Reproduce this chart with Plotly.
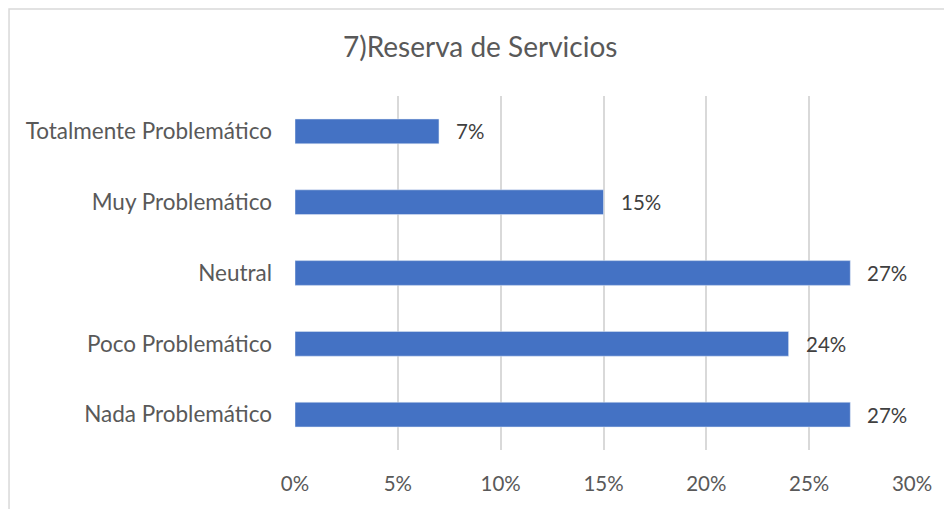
import plotly.graph_objs as go

# data (top to bottom)
categories = ["Totalmente Problemático", "Muy Problemático", "Neutral",
              "Poco Problemático", "Nada Problemático"]
values = [0.07, 0.15, 0.27, 0.24, 0.27]
x_ticks = [0, 0.05, 0.10, 0.15, 0.20, 0.25, 0.30]
x_tick_labels = ["0%", "5%", "10%", "15%", "20%", "25%", "30%"]

font_family = "Lato, Open Sans, sans-serif"
text_color = "#595959"

bar = go.Bar(
    x=values,
    y=categories,
    orientation="h",
    marker=dict(color="#4472C4"),
    width=0.35,
    hoverinfo="skip",
)

# data labels placed a little right of each bar end
labels = [dict(x=v, y=c, text=f"{round(v * 100)}%", xref="x", yref="y",
               xanchor="left", yanchor="middle", xshift=15, showarrow=False,
               font=dict(size=20.5, color="#404040", family=font_family))
          for v, c in zip(values, categories)]

layout = go.Layout(
    width=952,
    height=509,
    margin=dict(l=287, r=48, t=88, b=67),
    paper_bgcolor="white",
    plot_bgcolor="white",
    showlegend=False,
    font=dict(family=font_family, size=20, color=text_color),
    title=dict(text="7)Reserva de Servicios", x=0.496, xanchor="center",
               y=0.923, yanchor="middle",
               font=dict(size=28, color=text_color, family=font_family)),
    xaxis=dict(range=[0, 0.30], tickvals=x_ticks, ticktext=x_tick_labels,
               showgrid=True, gridcolor="#D9D9D9", gridwidth=1.5,
               zeroline=False, showline=False,
               ticklabelstandoff=19,
               tickfont=dict(size=20.5, color=text_color)),
    yaxis=dict(categoryorder="array", categoryarray=categories[::-1],
               showgrid=False, zeroline=False, showline=False,
               ticklabelstandoff=22,
               tickfont=dict(size=22.5, color=text_color)),
    annotations=labels,
    shapes=[dict(type="rect", xref="paper", yref="paper",
                 x0=-0.4635, x1=1.2, y0=-0.3, y1=1.2458,
                 line=dict(color="#D9D9D9", width=1.5))],
)

fig = go.Figure(data=[bar], layout=layout)
fig.write_html("out.html")
